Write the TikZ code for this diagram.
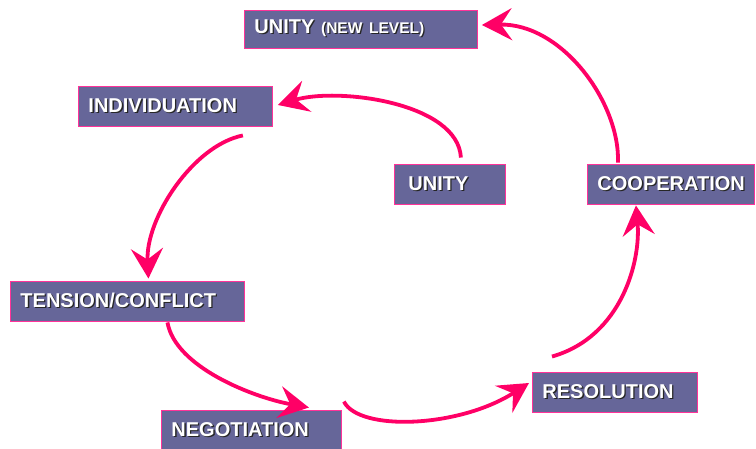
\documentclass[tikz,border=0pt]{standalone}
\usepackage{fontspec}
\setmainfont{Liberation Sans}
\usetikzlibrary{arrows.meta}

\definecolor{boxfill}{RGB}{102,102,153}
\definecolor{boxline}{RGB}{255,51,153}
\definecolor{arrowpink}{RGB}{255,0,102}

% white caption with a dark drop shadow
\newcommand{\shadowtext}[1]{\rlap{\kern1.3pt\raisebox{-1.3pt}{\textcolor{black!85}{#1}}}#1}

\tikzset{
  stage/.style={draw=boxline, line width=0.9pt, fill=boxfill, rectangle, anchor=west,
    minimum height=40pt, inner xsep=10pt, align=left, text=white,
    font=\fontsize{20}{22}\selectfont\bfseries},
  flow/.style={draw=arrowpink, line width=3.8pt,
    -{Stealth[length=30pt, width=32pt, inset=11pt]}},
}

\begin{document}
\begin{tikzpicture}[x=1pt, y=1pt]
    \useasboundingbox (0,0) rectangle (756,448);

    \node[stage, minimum height=38pt, text width=213pt] (unitynew) at (244,419)
      {\shadowtext{UNITY {\fontsize{15.5}{17}\selectfont (NEW LEVEL)}}};
    \node[stage, text width=174pt] (indiv) at (78,342) {\shadowtext{INDIVIDUATION}};
    \node[stage, inner xsep=14pt, text width=83pt] (unity) at (394,264) {\shadowtext{UNITY}};
    \node[stage, text width=147pt] (coop) at (587,264) {\shadowtext{COOPERATION}};
    \node[stage, text width=214pt] (tension) at (10,147) {\shadowtext{TENSION/CONFLICT}};
    \node[stage, text width=160pt] (negot) at (161,18) {\shadowtext{NEGOTIATION}};
    \node[stage, text width=145pt] (resol) at (532,56) {\shadowtext{RESOLUTION}};

    \draw[flow] ([xshift=-45pt, yshift=6pt]unity.north east)
      .. controls +(-3,55) and +(60,18) .. ([xshift=5pt, yshift=1pt]indiv.east);
    \draw[flow] ([xshift=31pt, yshift=1pt]coop.north west)
      .. controls +(2,60) and +(80,2) .. ([xshift=4pt, yshift=4pt]unitynew.east);
    \draw[flow] ([xshift=-30pt, yshift=-9pt]indiv.south east)
      .. controls +(-50,-10) and +(-3,60) .. ([xshift=21pt, yshift=2pt]tension.north);
    \draw[flow] ([xshift=40pt, yshift=-1pt]tension.south)
      .. controls +(8,-45) and +(-55,10) .. ([xshift=-33pt, yshift=2pt]negot.north east);
    \draw[flow] ([xshift=2pt, yshift=8pt]negot.north east)
      .. controls +(15,-30) and +(-70,-45) .. ([xshift=-3pt, yshift=9pt]resol.west);
    \draw[flow] ([xshift=20pt, yshift=15pt]resol.north west)
      .. controls +(70,20) and +(5,-55) .. ([xshift=-35pt, yshift=-1pt]coop.south);
\end{tikzpicture}
\end{document}
